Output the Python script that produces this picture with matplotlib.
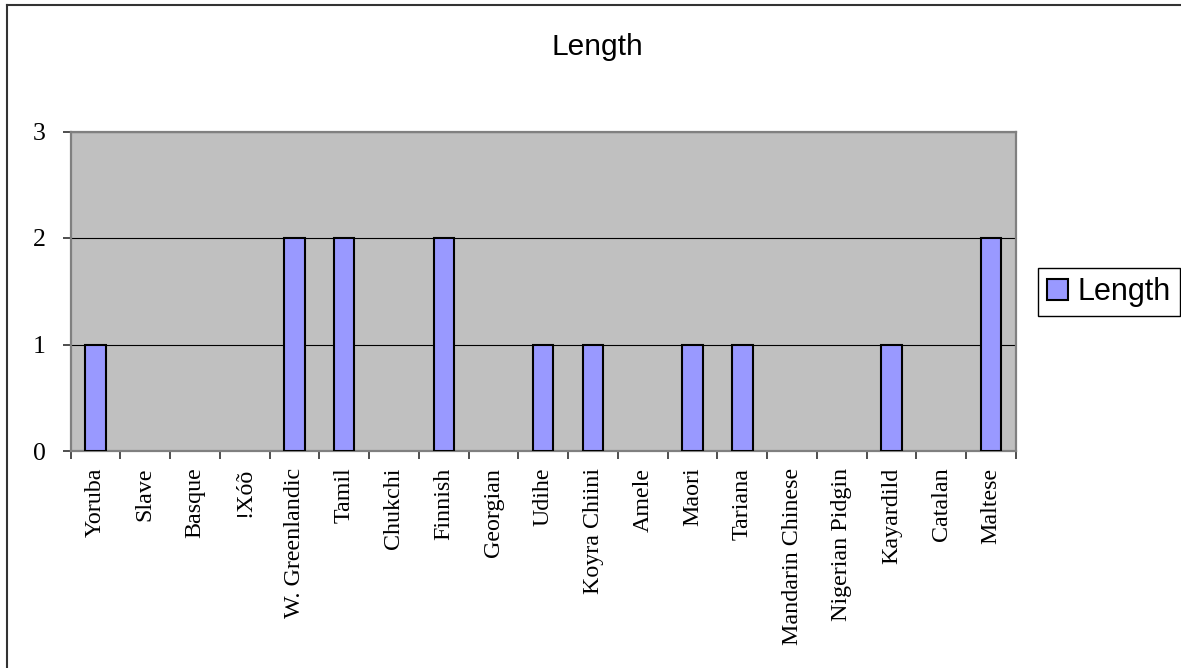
import matplotlib
matplotlib.use("Agg")
import matplotlib.pyplot as plt
from matplotlib.lines import Line2D
from matplotlib.patches import Patch
import numpy as np

languages = ["Yoruba", "Slave", "Basque", "!Xóõ", "W. Greenlandic", "Tamil",
             "Chukchi", "Finnish", "Georgian", "Udihe", "Koyra Chiini", "Amele",
             "Maori", "Tariana", "Mandarin Chinese", "Nigerian Pidgin",
             "Kayardild", "Catalan", "Maltese"]
length = [1, 0, 0, 0, 2, 2, 0, 2, 0, 1, 1, 0, 1, 1, 0, 0, 1, 0, 2]
y_ticks = [0, 1, 2, 3]
series_name = "Length"

W, H = 1181, 668
fig = plt.figure(figsize=(W / 100, H / 100), dpi=100)
fig.patch.set_facecolor("white")

left, right, top, bottom = 70.5, 1016, 131.5, 451
ax = fig.add_axes([left / W, 1 - bottom / H, (right - left) / W, (bottom - top) / H])
ax.set_facecolor("#C0C0C0")

x = np.arange(len(languages))
bar_color = "#9999FF"
widths = [1.5 if v > 0 else 0 for v in length]
ax.bar(x, length, width=0.41, color=bar_color, edgecolor="black",
       linewidth=widths, zorder=3)

ax.set_xlim(-0.5, len(languages) - 0.5)
ax.set_ylim(0, 3)
ax.set_yticks(y_ticks)
ax.set_yticklabels([str(t) for t in y_ticks])
ax.yaxis.grid(True, color="black", linewidth=0.8, zorder=1)
ax.set_axisbelow(True)

# category boundaries carry the tick marks, centers carry the labels
ax.set_xticks(np.arange(-0.5, len(languages), 1.0))
ax.set_xticklabels([])
ax.set_xticks(x, minor=True)
ax.set_xticklabels(languages, minor=True, rotation=90, va="top", ha="center")

serif = ["Liberation Serif", "DejaVu Serif"]
for lab in ax.get_xticklabels(minor=True):
    lab.set_fontfamily(serif)
    lab.set_fontsize(17.3)
for lab in ax.get_yticklabels():
    lab.set_fontfamily(serif)
    lab.set_fontsize(18.5)

ax.tick_params(axis="x", which="major", direction="out", length=5.5,
               width=1.2, color="#303030")
ax.tick_params(axis="x", which="minor", length=0, pad=12)
ax.tick_params(axis="y", direction="out", length=6, width=1.2,
               color="#303030", pad=12)

for s in ax.spines.values():
    s.set_color("#808080")
    s.set_linewidth(1.6)

# title
fig.text(597 / W, 1 - 55 / H, "Length", ha="center", va="baseline",
         fontsize=21.5, family=["Liberation Sans", "DejaVu Sans"])

# chart border (left and top edges)
fig.add_artist(Line2D([7 / W, 7 / W], [0, 1 - 5 / H], transform=fig.transFigure,
                      color="#333333", linewidth=1.5))
fig.add_artist(Line2D([7 / W, 1], [1 - 5 / H, 1 - 5 / H], transform=fig.transFigure,
                      color="#333333", linewidth=1.5))

handle = Patch(facecolor=bar_color, edgecolor="black", linewidth=1.5)
leg = fig.legend([handle], [series_name], loc="upper left",
                 bbox_to_anchor=(1038 / W, 1 - 268 / H),
                 bbox_transform=fig.transFigure, borderaxespad=0,
                 fancybox=False, edgecolor="black", framealpha=1,
                 handlelength=0.68, handleheight=0.68, handletextpad=0.3,
                 borderpad=0.3,
                 prop={"family": ["Liberation Sans", "DejaVu Sans"], "size": 22})
leg.get_frame().set_linewidth(1.0)

fig.savefig("out.png", dpi=100)
